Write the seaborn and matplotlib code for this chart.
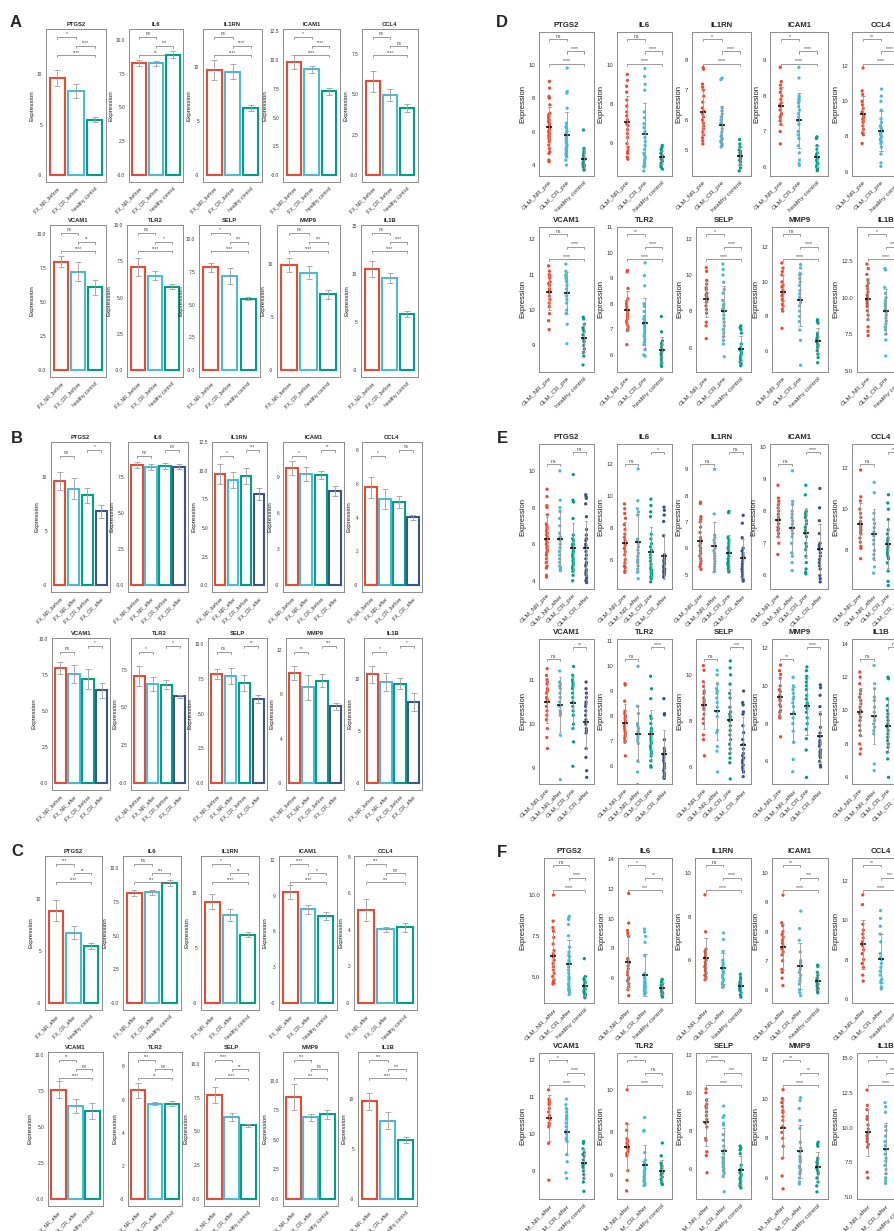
import numpy as np
import pandas as pd
import matplotlib
matplotlib.use("Agg")
import matplotlib.pyplot as plt
import seaborn as sns

sns.set_style("white")
plt.rcParams["font.family"] = ["Liberation Sans", "DejaVu Sans"]
np.random.seed(3)  # only for the horizontal jitter of strip points

GENES = ["PTGS2", "IL6", "IL1RN", "ICAM1", "CCL4", "VCAM1", "TLR2", "SELP", "MMP9", "IL1B"]

RED, BLUE, GREEN, NAVY = "#E64B35", "#4DBBD5", "#00A087", "#3C5488"

# ---------------- bar data (A, B, C): mean and error per gene ----------------
MEAN_NR_BEFORE = [9.6, 8.3, 9.7, 9.8, 5.8, 8.0, 7.1, 7.85, 9.9, 10.5]
MEAN_NR_AFTER = [8.9, 8.15, 9.2, 9.3, 5.1, 7.6, 6.55, 7.7, 8.6, 9.75]
MEAN_CR_BEFORE = [8.3, 8.25, 9.55, 9.2, 4.95, 7.25, 6.5, 7.2, 9.2, 9.6]
MEAN_CR_AFTER = [6.8, 8.2, 7.95, 7.85, 4.03, 6.45, 5.75, 6.05, 6.9, 7.8]
MEAN_HEALTHY = [5.5, 8.9, 6.2, 7.3, 4.15, 6.1, 5.75, 5.45, 7.15, 5.85]
ERR_NR_BEFORE = [0.8, 0.22, 0.9, 0.6, 0.65, 0.4, 0.65, 0.35, 0.65, 0.8]
ERR_NR_AFTER = [1.0, 0.22, 0.7, 0.6, 0.6, 0.6, 0.45, 0.6, 1.1, 0.85]
ERR_CR_BEFORE = [0.7, 0.2, 0.7, 0.3, 0.35, 0.7, 0.3, 0.6, 0.6, 0.5]
ERR_CR_AFTER = [0.6, 0.18, 0.55, 0.4, 0.15, 0.5, 0.1, 0.3, 0.3, 0.85]
ERR_HEALTHY = [0.25, 0.25, 0.25, 0.3, 0.25, 0.55, 0.15, 0.1, 0.4, 0.3]

# ---------------- sample values (D, E, F) ----------------
PTGS2_NR_PRE = [9.0, 8.6, 8.1, 8.0, 7.6, 7.1, 7.0, 6.9, 6.8, 6.7, 6.6, 6.5, 6.4, 6.3, 6.2, 6.1, 6.0, 5.9, 5.8, 5.7, 5.6, 5.5, 5.4, 5.2, 5.0, 4.8, 4.7, 4.3, 4.2]
PTGS2_CR_PRE = [9.8, 8.4, 8.3, 7.4, 6.0, 6.5, 6.3, 6.2, 6.0, 5.9, 5.8, 5.7, 5.6, 5.5, 5.4, 5.3, 5.2, 5.1, 5.0, 4.9, 4.8, 4.7, 4.6, 4.5, 4.3, 4.0]
PTGS2_NR_AFTER = [10.0, 8.4, 8.0, 7.8, 7.4, 7.0, 6.6, 6.4, 6.3, 6.2, 6.0, 5.8, 5.6, 5.4, 5.2, 5.0, 4.8, 4.7, 4.6, 4.55]
PTGS2_CR_AFTER = [8.7, 8.6, 8.5, 8.2, 7.5, 6.8, 6.5, 6.3, 6.2, 6.0, 5.9, 5.8, 5.6, 5.4, 5.2, 5.0, 4.9, 4.8, 4.6, 4.5, 4.4, 4.3, 4.2, 4.1, 4.0, 3.9]
PTGS2_HC = [6.1, 5.0, 4.9, 4.8, 4.7, 4.6, 4.5, 4.4, 4.3, 4.2, 4.2, 4.1, 4.0, 4.0, 3.9, 3.9, 3.8, 3.7]

IL6_NR_PRE = [9.5, 9.2, 8.9, 8.6, 8.2, 7.9, 7.6, 7.4, 7.2, 7.0, 6.9, 6.7, 6.5, 6.3, 6.0, 5.8, 5.6, 5.5, 5.3, 5.2]
IL6_CR_PRE = [9.8, 9.4, 9.0, 8.7, 7.6, 7.3, 7.0, 6.8, 6.6, 6.3, 6.1, 5.9, 5.7, 5.5, 5.4, 5.3, 5.2, 5.1, 5.0, 4.9, 4.8, 4.6]
IL6_NR_AFTER = [11.7, 9.7, 9.2, 9.0, 8.8, 7.3, 7.2, 7.0, 6.8, 6.6, 6.4, 6.2, 6.0, 5.9, 5.8, 5.6, 5.4, 5.2, 4.8]
IL6_CR_AFTER = [9.3, 9.1, 8.8, 8.4, 7.5, 6.3, 6.1, 6.0, 5.9, 5.8, 5.7, 5.6, 5.5, 5.4, 5.4, 5.3, 5.3, 5.2, 5.2, 5.1, 5.0, 4.9]
IL6_HC = [5.9, 5.8, 5.7, 5.6, 5.5, 5.5, 5.4, 5.3, 5.3, 5.2, 5.2, 5.1, 5.0, 5.0, 4.9, 4.8, 4.7]

IL1RN_NR_PRE = [7.75, 7.7, 7.2, 7.1, 7.0, 6.8, 6.6, 6.4, 6.3, 6.2, 6.1, 6.0, 5.9, 5.8, 5.7, 5.6, 5.5, 5.4, 5.3, 5.2]
IL1RN_CR_PRE = [7.4, 7.35, 6.4, 6.3, 6.2, 6.1, 6.0, 5.9, 5.8, 5.7, 5.6, 5.5, 5.45, 5.4, 5.35, 5.3, 5.25, 5.2, 5.15, 5.1]
IL1RN_NR_AFTER = [9.0, 7.3, 6.5, 6.4, 6.3, 6.2, 6.1, 6.0, 5.9, 5.8, 5.7, 5.6, 5.5, 5.4, 5.3, 5.2, 5.1]
IL1RN_CR_AFTER = [7.25, 6.95, 6.4, 6.0, 5.9, 5.8, 5.7, 5.6, 5.5, 5.4, 5.3, 5.2, 5.1, 5.0, 4.9, 4.8, 4.75]
IL1RN_HC = [5.35, 5.2, 5.1, 5.0, 4.95, 4.9, 4.85, 4.8, 4.75, 4.7, 4.65, 4.6, 4.5, 4.4, 4.3]

ICAM1_NR_PRE = [8.8, 8.4, 8.3, 8.2, 8.1, 8.0, 7.9, 7.8, 7.75, 7.7, 7.6, 7.5, 7.45, 7.4, 7.3, 7.2, 7.0, 6.65]
ICAM1_CR_PRE = [8.8, 8.5, 8.0, 7.95, 7.9, 7.85, 7.8, 7.7, 7.6, 7.5, 7.4, 7.3, 7.2, 7.0, 6.9, 6.8, 6.6, 6.4, 6.2, 6.1, 6.05]
ICAM1_NR_AFTER = [9.25, 8.3, 8.2, 8.0, 7.9, 7.8, 7.7, 7.6, 7.5, 7.4, 7.3, 7.2, 7.0, 6.7, 6.6, 6.4, 6.15]
ICAM1_CR_AFTER = [8.7, 8.1, 7.7, 7.3, 7.0, 6.95, 6.9, 6.8, 6.7, 6.6, 6.5, 6.4, 6.3, 6.2, 6.0, 5.9, 5.8]
ICAM1_HC = [6.85, 6.8, 6.6, 6.5, 6.4, 6.35, 6.3, 6.25, 6.2, 6.15, 6.1, 6.05, 6.0, 5.95, 5.9]

CCL4_NR_PRE = [11.9, 10.6, 10.4, 10.0, 9.8, 9.6, 9.4, 9.3, 9.2, 9.1, 9.0, 8.9, 8.8, 8.6, 8.4, 8.2, 8.1, 7.6]
CCL4_CR_PRE = [10.7, 10.3, 10.0, 9.5, 9.0, 8.8, 8.6, 8.5, 8.4, 8.3, 8.2, 8.1, 8.0, 7.9, 7.8, 7.7, 7.6, 7.4, 7.0, 6.5, 6.3]
CCL4_NR_AFTER = [11.3, 10.8, 9.8, 9.5, 9.3, 9.1, 8.9, 8.7, 8.5, 8.3, 8.0, 7.8, 7.6, 7.2, 6.9]
CCL4_CR_AFTER = [10.5, 10.1, 9.7, 9.3, 8.9, 8.3, 8.1, 8.0, 7.8, 7.6, 7.4, 7.2, 7.0, 6.9, 6.8, 6.6, 6.5]
CCL4_HC = [7.6, 7.3, 7.1, 7.0, 6.9, 6.8, 6.7, 6.6, 6.5, 6.4, 6.3, 6.2, 6.1, 6.0, 5.9]

VCAM1_NR_PRE = [11.25, 11.1, 11.0, 10.95, 10.9, 10.8, 10.75, 10.7, 10.6, 10.55, 10.5, 10.4, 10.3, 10.2, 10.1, 9.9, 9.7, 9.45]
VCAM1_CR_PRE = [11.3, 11.1, 11.0, 10.95, 10.9, 10.85, 10.8, 10.7, 10.6, 10.5, 10.4, 10.3, 10.2, 10.0, 9.9, 9.6, 9.05]
VCAM1_NR_AFTER = [11.2, 10.95, 10.9, 10.85, 10.8, 10.7, 10.6, 10.5, 10.4, 10.3, 10.25, 10.2, 9.75, 8.75]
VCAM1_CR_AFTER = [10.95, 10.8, 10.7, 10.6, 10.5, 10.45, 10.4, 10.3, 10.2, 10.1, 10.0, 9.9, 9.85, 9.8, 9.45, 9.25, 8.95, 8.8]
VCAM1_HC = [9.8, 9.75, 9.6, 9.5, 9.45, 9.4, 9.3, 9.2, 9.15, 9.1, 9.0, 8.9, 8.8, 8.7, 8.45]

TLR2_NR_PRE = [9.3, 9.25, 8.6, 8.2, 8.1, 8.0, 7.9, 7.8, 7.7, 7.6, 7.5, 7.4, 7.3, 7.2, 7.1, 7.0, 6.95, 6.4]
TLR2_CR_PRE = [9.6, 9.1, 8.7, 8.0, 7.9, 7.7, 7.5, 7.4, 7.3, 7.2, 7.1, 7.0, 6.9, 6.8, 6.7, 6.6, 6.5, 6.4, 6.2, 6.0, 5.95]
TLR2_NR_AFTER = [10.0, 8.4, 8.1, 7.7, 7.6, 7.5, 7.4, 7.3, 7.2, 7.1, 7.0, 6.9, 6.2, 5.75, 5.25]
TLR2_CR_AFTER = [8.7, 8.1, 8.05, 7.05, 6.7, 6.6, 6.5, 6.4, 6.3, 6.2, 6.1, 6.0, 5.9, 5.8, 5.7, 5.6, 5.55, 5.5]
TLR2_HC = [7.5, 6.9, 6.55, 6.45, 6.4, 6.3, 6.2, 6.15, 6.1, 6.05, 6.0, 5.9, 5.8, 5.7, 5.6, 5.55]

SELP_NR_PRE = [10.4, 10.2, 9.7, 9.5, 9.3, 9.2, 9.0, 8.9, 8.8, 8.7, 8.6, 8.5, 8.3, 8.1, 7.9, 7.4, 7.2, 6.5]
SELP_CR_PRE = [10.6, 10.3, 10.0, 9.6, 9.2, 9.0, 8.6, 8.4, 8.3, 8.2, 8.1, 8.0, 7.8, 7.6, 7.4, 7.2, 7.0, 6.8, 6.6, 6.4, 6.2, 5.5]
SELP_NR_AFTER = [10.2, 10.0, 9.6, 9.4, 9.3, 9.2, 9.0, 8.8, 8.6, 8.4, 8.2, 7.6, 7.5, 6.9, 6.7, 5.8]
SELP_CR_AFTER = [9.3, 8.8, 8.7, 8.4, 8.3, 7.8, 7.5, 7.2, 7.0, 6.8, 6.6, 6.5, 6.4, 6.3, 6.2, 6.1, 6.0, 5.9, 5.8, 5.6, 4.8]
SELP_HC = [7.2, 7.1, 7.0, 6.8, 6.2, 6.0, 5.9, 5.8, 5.7, 5.6, 5.5, 5.4, 5.3, 5.2, 5.1, 5.0]

MMP9_NR_PRE = [11.1, 10.8, 10.6, 10.4, 10.0, 9.8, 9.7, 9.5, 9.3, 9.2, 9.0, 8.9, 8.7, 8.6, 8.4, 8.3, 7.3]
MMP9_CR_PRE = [11.0, 10.8, 10.5, 10.4, 10.2, 10.0, 9.8, 9.5, 9.3, 9.1, 9.0, 8.8, 8.6, 8.3, 8.0, 7.7, 7.2, 6.6, 5.15]
MMP9_NR_AFTER = [10.45, 10.0, 9.8, 9.6, 9.4, 9.3, 9.1, 8.9, 8.6, 8.3, 8.0, 7.6, 7.0, 6.1, 5.45]
MMP9_CR_AFTER = [10.05, 9.9, 9.5, 8.9, 8.5, 7.8, 7.5, 7.3, 7.1, 7.0, 6.9, 6.8, 6.6, 6.5, 6.4, 6.3, 6.2, 6.0, 5.8, 5.7]
MMP9_HC = [7.8, 7.7, 7.6, 7.0, 6.9, 6.8, 6.7, 6.6, 6.5, 6.4, 6.3, 6.2, 6.0, 5.8, 5.6, 5.3]

IL1B_NR_PRE = [12.3, 12.0, 11.6, 11.2, 11.0, 10.8, 10.6, 10.4, 10.2, 10.0, 9.8, 9.6, 9.4, 9.1, 8.8, 8.5, 8.0, 7.7, 7.4]
IL1B_CR_PRE = [12.0, 11.9, 10.7, 10.3, 10.0, 9.8, 9.6, 9.4, 9.2, 9.0, 8.8, 8.6, 8.4, 8.2, 8.0, 7.8, 7.5, 7.1, 6.0]
IL1B_NR_AFTER = [12.7, 11.6, 11.3, 10.8, 10.6, 10.2, 9.9, 9.6, 9.4, 9.2, 9.0, 8.8, 8.6, 6.8, 6.4]
IL1B_CR_AFTER = [11.8, 11.5, 11.1, 10.1, 9.8, 9.4, 9.0, 8.7, 8.4, 8.1, 7.8, 7.6, 7.3, 7.0, 6.7, 6.4, 6.2, 6.0]
IL1B_HC = [8.2, 7.6, 7.2, 7.0, 6.8, 6.6, 6.5, 6.4, 6.2, 6.0, 5.8, 5.5]

# ---------------- axis ranges ----------------
A_YMAX = [14.5, 10.8, 13.5, 12.7, 9.05, 10.7, 10.0, 11.07, 13.7, 15.1]
A_STEP = [5, 2.5, 5, 2.5, 2.5, 2.5, 2.5, 2.5, 5, 5]
B_YMAX = [13.2, 9.9, 12.5, 11.96, 8.5, 10.1, 9.6, 10.43, 13.05, 14.0]
B_STEP = [5, 2.5, 2.5, 3, 2, 2.5, 2.5, 2.5, 4, 5]
C_YMAX = [14.2, 10.9, 13.34, 12.33, 8.04, 10.23, 8.87, 10.89, 12.43, 14.65]
C_STEP = [5, 2.5, 5, 3, 2, 2.5, 2, 2.5, 2.5, 5]

D_YLIM = [(3.35, 11.95), (4.35, 11.65), (4.13, 8.94), (5.75, 9.79), (5.75, 13.95),
          (8.25, 12.35), (5.33, 11.0), (4.66, 12.64), (4.76, 13.19), (4.9, 14.85)]
D_STEP = [2, 2, 1, 1, 2, 1, 1, 2, 2, 2.5]
E_YLIM = [(3.55, 11.47), (4.15, 13.27), (4.45, 9.96), (5.58, 10.08), (6.13, 13.16),
          (8.65, 11.92), (5.27, 11.1), (5.28, 11.55), (4.8, 12.48), (5.6, 14.28)]
E_STEP = [2, 2, 1, 1, 2, 1, 1, 2, 2, 2]
F_YLIM = [(3.38, 12.27), (4.3, 14.1), (4.03, 10.69), (5.55, 10.52), (5.78, 13.18),
          (8.24, 12.2), (4.87, 11.73), (4.42, 12.09), (4.94, 12.3), (4.88, 15.36)]
F_STEP = [2.5, 2, 2, 1, 2, 1, 2, 2, 2, 2.5]

# ---------------- significance labels ----------------
A_SIG = [["*", "****", "****"], ["ns", "***", "**"], ["ns", "****", "****"], ["*", "****", "****"],
         ["ns", "ns", "****"], ["ns", "**", "****"], ["ns", "*", "****"], ["*", "***", "****"],
         ["ns", "***", "****"], ["ns", "****", "****"]]
B_SIG = [["ns", "*"], ["ns", "ns"], ["*", "***"], ["*", "**"], ["*", "ns"],
         ["ns", "*"], ["*", "*"], ["ns", "**"], ["**", "***"], ["*", "*"]]
C_SIG = [["***", "**", "****"], ["ns", "***", "***"], ["*", "**", "****"], ["****", "*", "****"],
         ["***", "ns", "***"], ["**", "ns", "****"], ["***", "ns", "**"], ["****", "**", "****"],
         ["***", "ns", "***"], ["***", "***", "****"]]
D_SIG = [["ns", "****", "****"], ["ns", "****", "****"], ["*", "****", "****"], ["*", "****", "****"],
         ["**", "****", "****"], ["ns", "****", "****"], ["**", "****", "****"], ["*", "****", "****"],
         ["ns", "****", "****"], ["*", "****", "****"]]
E_SIG = [["ns", "ns"], ["ns", "*"], ["ns", "ns"], ["ns", "****"], ["ns", "***"],
         ["ns", "**"], ["ns", "****"], ["ns", "***"], ["**", "****"], ["ns", "ns"]]
F_SIG = [["ns", "****", "****"], ["*", "**", "***"], ["ns", "****", "****"], ["**", "***", "****"],
         ["**", "***", "****"], ["*", "****", "****"], ["**", "ns", "****"], ["****", "***", "****"],
         ["**", "**", "****"], ["*", "****", "****"]]

BAR_MEANS = [MEAN_NR_BEFORE, MEAN_NR_AFTER, MEAN_CR_BEFORE, MEAN_CR_AFTER, MEAN_HEALTHY]
BAR_ERRS = [ERR_NR_BEFORE, ERR_NR_AFTER, ERR_CR_BEFORE, ERR_CR_AFTER, ERR_HEALTHY]
G = globals()
STRIP_VALUES = {g: [G[f"{g}_{k}"] for k in ["NR_PRE", "NR_AFTER", "CR_PRE", "CR_AFTER", "HC"]]
                for g in GENES}

# ---------------- layout (pixel boxes) ----------------
W, H = 894, 1231
PANELS = [
    dict(key="A", kind="bar", idx=[0, 2, 4], sig=A_SIG, ymax=A_YMAX, step=A_STEP,
         names=["IFX_NR_before", "IFX_CR_before", "healthy control"],
         rows=[((29, 182), [(46, 106), (129, 183), (203, 262), (283, 340), (362, 418)]),
               ((225, 377), [(50, 106), (127, 183), (199, 260), (277, 340), (361, 418)])],
         letter=(10, 27)),
    dict(key="B", kind="bar", idx=[0, 1, 2, 3], sig=B_SIG, ymax=B_YMAX, step=B_STEP,
         names=["IFX_NR_before", "IFX_NR_after", "IFX_CR_before", "IFX_CR_after"],
         rows=[((442, 592), [(51, 110), (128, 188), (212, 267), (283, 344), (362, 422)]),
               ((638, 790), [(52, 110), (131, 188), (208, 267), (286, 344), (364, 422)])],
         letter=(11, 443)),
    dict(key="C", kind="bar", idx=[1, 3, 4], sig=C_SIG, ymax=C_YMAX, step=C_STEP,
         names=["IFX_NR_after", "IFX_CR_after", "healthy control"],
         rows=[((856, 1010), [(45, 102), (123, 181), (201, 259), (279, 337), (354, 417)]),
               ((1052, 1206), [(48, 103), (128, 182), (204, 259), (283, 338), (358, 417)])],
         letter=(11, 856)),
    dict(key="D", kind="strip", idx=[0, 2, 4], sig=D_SIG, ylim=D_YLIM, step=D_STEP,
         names=["GLM_NR_pre", "GLM_CR_pre", "healthy control"],
         rows=[((32, 176), [(539, 594), (617, 672), (692, 751), (770, 828), (852, 910)]),
               ((227, 372), [(539, 594), (617, 672), (696, 751), (772, 828), (857, 914)])],
         letter=(496, 27)),
    dict(key="E", kind="strip", idx=[0, 1, 2, 3], sig=E_SIG, ylim=E_YLIM, step=E_STEP,
         names=["GLM_NR_pre", "GLM_NR_after", "GLM_CR_pre", "GLM_CR_after"],
         rows=[((444, 589), [(539, 594), (617, 672), (692, 751), (770, 828), (852, 910)]),
               ((639, 784), [(539, 594), (617, 672), (696, 751), (772, 828), (852, 910)])],
         letter=(497, 443)),
    dict(key="F", kind="strip", idx=[1, 3, 4], sig=F_SIG, ylim=F_YLIM, step=F_STEP,
         names=["GLM_NR_after", "GLM_CR_after", "healthy control"],
         rows=[((858, 1003), [(544, 594), (618, 672), (695, 751), (772, 828), (852, 910)]),
               ((1053, 1199), [(539, 594), (617, 672), (696, 751), (772, 828), (857, 914)])],
         letter=(497, 857)),
]

fig = plt.figure(figsize=(W / 100, H / 100), dpi=100)
fig.patch.set_facecolor("white")


def add_ax(xbox, ybox):
    (l, r), (t, b) = xbox, ybox
    return fig.add_axes([l / W, 1 - b / H, (r - l) / W, (b - t) / H])


def bracket(ax, i, j, yf, label, fs):
    tr = ax.get_xaxis_transform()
    ax.plot([i, i, j, j], [yf - 0.015, yf, yf, yf - 0.015], transform=tr,
            color="0.45", lw=0.5, clip_on=False)
    ax.text((i + j) / 2, yf + 0.002, label, transform=tr, ha="center", va="bottom",
            fontsize=fs, color="0.25")


def finish(ax, title, ylo, yhi, step, small):
    fs_tick, fs_x, fs_lab, fs_title, pad = (3.4, 3.6, 4.5, 4.2, 2) if small else (4.3, 4.6, 5.5, 5.6, 3.5)
    ax.set_ylim(ylo, yhi)
    ticks = np.arange(np.ceil(ylo / step - 1e-9) * step, yhi + 1e-9, step)
    ax.set_yticks(ticks)
    fmt = "{:.0f}" if float(step).is_integer() else "{:.1f}"
    ax.set_yticklabels([fmt.format(t) for t in ticks])
    ax.set_xlabel("")
    ax.set_ylabel("Expression", fontsize=fs_lab, labelpad=1.5, color="0.1")
    ax.set_title(title, fontsize=fs_title, fontweight="bold", pad=pad)
    for s in ax.spines.values():
        s.set_color("0.55")
        s.set_linewidth(0.7)
    ax.tick_params(axis="both", length=1.8, width=0.5, color="0.35", labelsize=fs_tick,
                   pad=1, labelcolor="0.2")
    plt.setp(ax.get_xticklabels(), rotation=45, ha="right", rotation_mode="anchor", fontsize=fs_x)


for p in PANELS:
    n = len(p["idx"])
    colors = [RED, BLUE, GREEN] if n == 3 else [RED, BLUE, GREEN, NAVY]
    pairs = [(0, 1), (1, 2), (0, 2)] if n == 3 else [(0, 1), (2, 3)]
    if p["kind"] == "bar":
        yfr = [0.95, 0.89, 0.83] if n == 3 else [0.91, 0.95]
    else:
        yfr = [0.95, 0.865, 0.78] if n == 3 else [0.86, 0.945]
    for r, (ybox, xboxes) in enumerate(p["rows"]):
        for c, xbox in enumerate(xboxes):
            gi = r * 5 + c
            gene = GENES[gi]
            ax = add_ax(xbox, ybox)
            names = p["names"]
            if p["kind"] == "bar":
                means = [BAR_MEANS[k][gi] for k in p["idx"]]
                errs = [BAR_ERRS[k][gi] for k in p["idx"]]
                df = pd.DataFrame({"group": names, "value": means})
                sns.barplot(data=df, x="group", y="value", hue="group", order=names,
                            hue_order=names, palette=colors, fill=False, linewidth=1.5,
                            width=0.83, errorbar=None, legend=False, ax=ax)
                ax.errorbar(np.arange(n), means, yerr=errs, fmt="none", ecolor="0.62",
                            elinewidth=0.6, capsize=2.0, capthick=0.6, zorder=3)
                yhi = p["ymax"][gi]
                ylo = -0.048 * yhi
                ax.set_xlim(-0.62, n - 1 + 0.62)
                finish(ax, gene, ylo, yhi, p["step"][gi], True)
                sfs = 3.3
            else:
                vals = [STRIP_VALUES[gene][k] for k in p["idx"]]
                df = pd.DataFrame({"group": np.repeat(names, [len(v) for v in vals]),
                                   "value": np.concatenate(vals)})
                sns.stripplot(data=df, x="group", y="value", hue="group", order=names,
                              hue_order=names, palette=colors, jitter=0.045, size=2.4,
                              linewidth=0, legend=False, ax=ax, zorder=2)
                sns.pointplot(data=df, x="group", y="value", order=names, errorbar="sd",
                              color="black", markers="_", linestyles="none", markersize=5,
                              markeredgewidth=1.1, capsize=0.2,
                              err_kws={"color": "0.6", "linewidth": 0.6}, ax=ax)
                ylo, yhi = p["ylim"][gi]
                ax.set_xlim(-0.6, n - 1 + 0.6)
                finish(ax, gene, ylo, yhi, p["step"][gi], False)
                sfs = 3.7
            for (i, j), yf, lab in zip(pairs, yfr, p["sig"][gi]):
                bracket(ax, i, j, yf, lab, sfs)
    lx, ly = p["letter"]
    fig.text(lx / W, 1 - ly / H, p["key"], fontsize=12, fontweight="bold", va="baseline", ha="left")

fig.savefig("out.png", dpi=100, facecolor="white")
